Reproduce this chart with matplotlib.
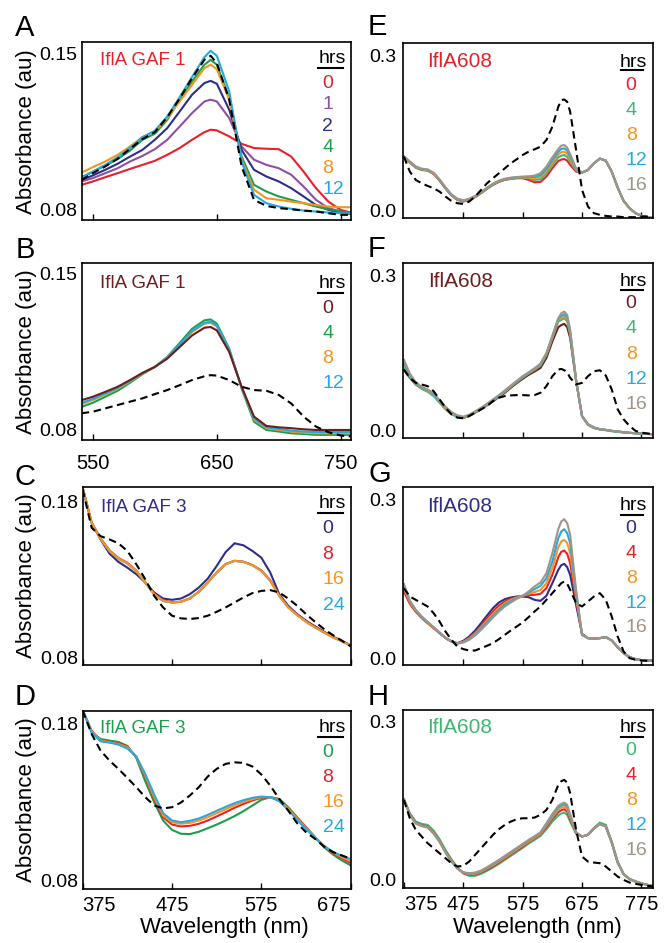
import matplotlib
matplotlib.use("Agg")
import matplotlib.pyplot as plt

plt.rcParams['font.family'] = ['Liberation Sans', 'DejaVu Sans']

RED = '#e8202a'
PURPLE = '#8f4fa0'
NAVY = '#2e2d88'
GREEN = '#1d9e4f'
LGREEN = '#3db873'
ORANGE = '#f7941d'
CYAN = '#25a9e0'
BROWN = '#6e1e1e'
TAN = '#a39386'

# ---- wavelengths (nm) ----
wl_ab = [541, 550, 560, 570, 580, 590, 600, 610, 620, 630, 640, 645, 650,
         660, 670, 680, 690, 700, 710, 720, 730, 740, 750, 758]
wl_cd = list(range(375, 676, 10))
wl_efgh = list(range(375, 636, 10)) + [640, 645, 650] + list(range(655, 796, 10))

# ---- panel A: IflA GAF 1 ----
a_hours = ['0', '1', '2', '4', '8', '12']
a_0 = [0.0912, 0.0927, 0.0946, 0.0964, 0.0983, 0.1001, 0.1019, 0.1046, 0.1076, 0.1113, 0.1147, 0.1158,
       0.1155, 0.1128, 0.1095, 0.1076, 0.1073, 0.1071, 0.1038, 0.0971, 0.0897, 0.0837, 0.0800, 0.0788]
a_1 = [0.0927, 0.0942, 0.0964, 0.0986, 0.1016, 0.1041, 0.1071, 0.1113, 0.1172, 0.1232, 0.1284, 0.1292,
       0.1284, 0.1210, 0.1083, 0.1024, 0.1001, 0.0986, 0.0957, 0.0904, 0.0845, 0.0808, 0.0793, 0.0785]
a_2 = [0.0934, 0.0954, 0.0979, 0.1006, 0.1038, 0.1068, 0.1113, 0.1165, 0.1239, 0.1314, 0.1366, 0.1376,
       0.1363, 0.1247, 0.1068, 0.0979, 0.0949, 0.0927, 0.0897, 0.0860, 0.0822, 0.0800, 0.0788, 0.0782]
a_4 = [0.0946, 0.0971, 0.0997, 0.1027, 0.1065, 0.1113, 0.1140, 0.1202, 0.1292, 0.1373, 0.1448, 0.1470,
       0.1448, 0.1299, 0.1038, 0.0912, 0.0882, 0.0860, 0.0845, 0.0830, 0.0815, 0.0803, 0.0793, 0.0785]
a_8 = [0.0967, 0.0991, 0.1016, 0.1046, 0.1083, 0.1125, 0.1150, 0.1210, 0.1284, 0.1358, 0.1433, 0.1448,
       0.1428, 0.1292, 0.1024, 0.0890, 0.0852, 0.0845, 0.0837, 0.0830, 0.0822, 0.0815, 0.0812, 0.0812]
a_12 = [0.0942, 0.0971, 0.1001, 0.1035, 0.1076, 0.1125, 0.1153, 0.1217, 0.1303, 0.1393, 0.1482, 0.1510,
        0.1488, 0.1329, 0.1016, 0.0867, 0.0830, 0.0815, 0.0805, 0.0797, 0.0793, 0.0788, 0.0785, 0.0785]
a_ref = [0.0934, 0.0964, 0.0994, 0.1028, 0.1073, 0.1116, 0.1147, 0.1214, 0.1297, 0.1388, 0.1470, 0.1488,
         0.1455, 0.1292, 0.0994, 0.0845, 0.0818, 0.0808, 0.0803, 0.0797, 0.0793, 0.0785, 0.0778, 0.0778]

# ---- panel B: IflA GAF 1 ----
b_hours = ['0', '4', '8', '12']
b_0 = [0.0934, 0.0949, 0.0971, 0.0994, 0.1024, 0.1056, 0.1083, 0.1120, 0.1172, 0.1224, 0.1259, 0.1262,
       0.1247, 0.1150, 0.0994, 0.0860, 0.0818, 0.0812, 0.0808, 0.0803, 0.0800, 0.0800, 0.0800, 0.0800]
b_4 = [0.0904, 0.0922, 0.0949, 0.0976, 0.1012, 0.1050, 0.1083, 0.1128, 0.1190, 0.1254, 0.1292, 0.1296,
       0.1277, 0.1165, 0.0986, 0.0837, 0.0800, 0.0793, 0.0785, 0.0782, 0.0778, 0.0778, 0.0778, 0.0778]
b_8 = [0.0916, 0.0934, 0.0960, 0.0985, 0.1018, 0.1053, 0.1083, 0.1125, 0.1180, 0.1239, 0.1277, 0.1281,
       0.1265, 0.1158, 0.0991, 0.0848, 0.0808, 0.0800, 0.0793, 0.0788, 0.0785, 0.0785, 0.0785, 0.0785]
b_12 = [0.0922, 0.0939, 0.0964, 0.0989, 0.1021, 0.1055, 0.1083, 0.1125, 0.1183, 0.1244, 0.1281, 0.1286,
        0.1269, 0.1161, 0.0991, 0.0852, 0.0812, 0.0805, 0.0797, 0.0793, 0.0791, 0.0791, 0.0791, 0.0791]
b_ref = [0.0875, 0.0882, 0.0897, 0.0912, 0.0927, 0.0942, 0.0961, 0.0979, 0.1001, 0.1024, 0.1041, 0.1046,
         0.1044, 0.1024, 0.0994, 0.0979, 0.0976, 0.0957, 0.0919, 0.0860, 0.0815, 0.0790, 0.0775, 0.0771]

# ---- panel C: IflA GAF 3 ----
c_hours = ['0', '8', '16', '24']
c_0 = [.1885, .1662, .1555, .1464, .1411, .1374, .1332, .1279, .1215, .1176, .1168, .1176, .1204, .1247, .1304, .1385,
       .1474, .1530, .1517, .1481, .1438, .1342, .1204, .1130, .1076, .1034, .0998, .0964, .0932, .0906, .0874]
c_8 = [.1885, .1662, .1562, .1485, .1436, .1405, .1355, .1281, .1206, .1163, .1152, .1156, .1177, .1220, .1280, .1343,
       .1397, .1418, .1412, .1391, .1356, .1293, .1198, .1123, .1074, .1031, .0995, .0962, .0930, .0904, .0876]
c_16 = [.1885, .1662, .1559, .1481, .1432, .1402, .1353, .1279, .1204, .1161, .1151, .1155, .1176, .1219, .1279, .1342,
        .1396, .1417, .1411, .1389, .1353, .1289, .1193, .1119, .1070, .1027, .0991, .0959, .0927, .0902, .0874]
c_24 = [.1885, .1662, .1558, .1480, .1430, .1400, .1352, .1278, .1203, .1160, .1150, .1155, .1176, .1219, .1279, .1342,
        .1397, .1418, .1411, .1389, .1353, .1289, .1193, .1119, .1070, .1027, .0991, .0959, .0927, .0902, .0874]
c_ref = [.1874, .1630, .1576, .1555, .1530, .1481, .1396, .1300, .1193, .1119, .1066, .1049, .1045, .1051, .1066, .1091,
         .1119, .1151, .1183, .1211, .1225, .1230, .1215, .1176, .1130, .1076, .1027, .0981, .0942, .0906, .0870]

# ---- panel D: IflA GAF 3 ----
d_hours = ['0', '8', '16', '24']
d_0 = [.1889, .1747, .1704, .1694, .1685, .1660, .1583, .1434, .1300, .1183, .1123, .1098, .1096, .1111, .1134, .1157,
       .1183, .1211, .1243, .1279, .1315, .1332, .1321, .1268, .1204, .1140, .1077, .1013, .0966, .0928, .0896]
d_8 = [.1889, .1757, .1694, .1685, .1677, .1655, .1591, .1464, .1321, .1204, .1157, .1145, .1149, .1162, .1183, .1209,
       .1236, .1264, .1289, .1311, .1328, .1332, .1315, .1264, .1200, .1140, .1077, .1019, .0974, .0943, .0911]
d_16 = [.1889, .1753, .1694, .1683, .1672, .1651, .1591, .1470, .1332, .1215, .1172, .1162, .1168, .1183, .1204, .1230,
        .1255, .1281, .1302, .1319, .1332, .1332, .1311, .1260, .1196, .1136, .1077, .1023, .0979, .0949, .0923]
d_24 = [.1889, .1747, .1689, .1681, .1668, .1643, .1591, .1481, .1349, .1230, .1183, .1172, .1181, .1196, .1219, .1245,
        .1270, .1294, .1313, .1328, .1336, .1332, .1306, .1251, .1187, .1128, .1072, .1021, .0983, .0957, .0936]
d_ref = [.1885, .1736, .1630, .1566, .1513, .1455, .1396, .1332, .1279, .1260, .1268, .1298, .1343, .1396, .1464, .1513,
         .1545, .1555, .1551, .1528, .1477, .1406, .1321, .1247, .1166, .1108, .1066, .1017, .0981, .0960, .0938]

# ---- panel E: IflA608 ----
e_hours = ['0', '4', '8', '12', '16']
e_0 = [.1040, .0924, .0828, .0783, .0770, .0706, .0578, .0424, .0289, .0205, .0173, .0205, .0257, .0334, .0417,
       .0494, .0552, .0591, .0610, .0623, .0623, .0591, .0546, .0552, .0655, .0815, .0957, .0982, .0995, .0963,
       .0880, .0751, .0732, .0783, .0912, .1002, .0963, .0751, .0443, .0186, .0045, -.0051, -.0103, -.0128, -.0148]
e_4 = [.1040, .0930, .0834, .0790, .0776, .0712, .0584, .0430, .0295, .0211, .0179, .0211, .0263, .0340, .0423,
       .0500, .0558, .0597, .0616, .0629, .0636, .0623, .0591, .0603, .0719, .0880, .1027, .1059, .1072, .1034,
       .0944, .0770, .0732, .0783, .0912, .1002, .0963, .0751, .0443, .0186, .0045, -.0051, -.0103, -.0128, -.0148]
e_8 = [.1040, .0936, .0840, .0795, .0782, .0718, .0590, .0436, .0301, .0217, .0185, .0217, .0269, .0346, .0429,
       .0506, .0564, .0603, .0622, .0635, .0642, .0636, .0623, .0642, .0764, .0924, .1085, .1124, .1136, .1098,
       .0989, .0783, .0732, .0783, .0912, .1002, .0963, .0751, .0443, .0186, .0045, -.0051, -.0103, -.0128, -.0148]
e_12 = [.1040, .0942, .0846, .0801, .0788, .0724, .0596, .0442, .0307, .0223, .0191, .0223, .0275, .0352, .0435,
        .0512, .0570, .0609, .0628, .0641, .0648, .0648, .0648, .0681, .0803, .0976, .1136, .1188, .1201, .1156,
        .1040, .0796, .0732, .0783, .0912, .1002, .0963, .0751, .0443, .0186, .0045, -.0051, -.0103, -.0128, -.0148]
e_16 = [.1040, .0948, .0852, .0807, .0794, .0730, .0602, .0448, .0313, .0229, .0197, .0229, .0281, .0358, .0441,
        .0518, .0576, .0615, .0634, .0647, .0655, .0661, .0674, .0719, .0847, .1027, .1188, .1252, .1265, .1213,
        .1091, .0815, .0732, .0783, .0912, .1002, .0963, .0751, .0443, .0186, .0045, -.0051, -.0103, -.0128, -.0148]
e_ref = [.1040, .0751, .0591, .0526, .0475, .0430, .0366, .0270, .0186, .0141, .0128, .0173, .0270, .0398, .0526,
         .0623, .0719, .0815, .0912, .0989, .1072, .1136, .1181, .1233, .1361, .1618, .2003, .2131, .2144, .2099,
         .1907, .1168, .0398, .0077, -.0051, -.0083, -.0103, -.0116, -.0116, -.0128, -.0128, -.0128, -.0116, -.0116,
         -.0116]

# ---- panel F: IflA608 ----
f_hours = ['0', '4', '8', '12', '16']
f_0 = [.1181, .1021, .0892, .0815, .0764, .0687, .0559, .0430, .0334, .0276, .0250, .0282, .0347, .0411, .0488,
       .0565, .0648, .0732, .0828, .0918, .1002, .1079, .1143, .1213, .1406, .1727, .2003, .2042, .2067, .2003,
       .1791, .0957, .0282, .0122, .0058, .0026, .0013, -.0006, -.0019, -.0032, -.0045, -.0051, -.0058, -.0064, -.0071]
f_4 = [.1245, .1040, .0892, .0809, .0751, .0668, .0539, .0411, .0315, .0263, .0244, .0282, .0347, .0417, .0494,
       .0578, .0661, .0751, .0847, .0937, .1027, .1104, .1175, .1258, .1464, .1785, .2112, .2144, .2176, .2112,
       .1855, .0969, .0270, .0109, .0045, .0019, .0006, -.0013, -.0026, -.0039, -.0045, -.0051, -.0058, -.0064, -.0071]
f_8 = [.1278, .1066, .0912, .0828, .0770, .0687, .0559, .0430, .0334, .0276, .0250, .0289, .0353, .0424, .0501,
       .0584, .0668, .0758, .0854, .0944, .1034, .1111, .1181, .1271, .1477, .1804, .2144, .2176, .2208, .2144,
       .1887, .0976, .0276, .0116, .0051, .0026, .0013, -.0006, -.0019, -.0032, -.0045, -.0051, -.0058, -.0064, -.0071]
f_12 = [.1310, .1079, .0924, .0835, .0783, .0700, .0571, .0443, .0347, .0282, .0257, .0295, .0360, .0430, .0507,
        .0591, .0674, .0764, .0860, .0950, .1040, .1117, .1194, .1284, .1489, .1823, .2164, .2221, .2253, .2189,
        .1920, .0982, .0282, .0122, .0058, .0026, .0013, -.0006, -.0019, -.0032, -.0045, -.0051, -.0058, -.0064, -.0071]
f_16 = [.1374, .1104, .0937, .0847, .0796, .0719, .0591, .0462, .0360, .0295, .0270, .0308, .0372, .0443, .0520,
        .0603, .0687, .0777, .0873, .0963, .1053, .1130, .1207, .1297, .1502, .1836, .2176, .2273, .2305, .2241,
        .1952, .0989, .0282, .0122, .0058, .0026, .0013, -.0006, -.0019, -.0032, -.0045, -.0051, -.0058, -.0064, -.0071]
f_ref = [.1181, .1021, .0924, .0892, .0860, .0764, .0603, .0443, .0315, .0250, .0238, .0282, .0347, .0411, .0475,
         .0571, .0636, .0668, .0681, .0687, .0687, .0681, .0687, .0732, .0860, .1053, .1181, .1194, .1168, .1130,
         .1021, .0892, .0924, .1053, .1149, .1168, .1066, .0796, .0411, .0218, .0090, -.0006, -.0039, -.0058, -.0071]

# ---- panel G: IflA608 ----
g_hours = ['0', '4', '8', '12', '16']
g_0 = [.1307, .1055, .0891, .0771, .0669, .0575, .0480, .0385, .0322, .0284, .0328, .0411, .0524, .0663, .0808,
       .0947, .1055, .1118, .1150, .1168, .1168, .1156, .1105, .1086, .1181, .1421, .1674, .1762, .1787, .1724,
       .1579, .1011, .0461, .0379, .0373, .0379, .0398, .0335, .0208, .0095, .0019, -.0019, -.0038, -.0044, -.0051]
g_4 = [.1263, .1030, .0878, .0758, .0663, .0568, .0474, .0379, .0316, .0278, .0316, .0385, .0486, .0613, .0752,
       .0884, .0998, .1074, .1124, .1156, .1181, .1194, .1200, .1219, .1326, .1579, .1914, .2015, .2040, .1977,
       .1800, .1105, .0442, .0379, .0373, .0379, .0398, .0335, .0208, .0095, .0019, -.0019, -.0038, -.0044, -.0051]
g_8 = [.1326, .1061, .0897, .0771, .0669, .0575, .0480, .0385, .0316, .0278, .0309, .0373, .0467, .0587, .0714,
       .0840, .0954, .1042, .1105, .1150, .1181, .1219, .1251, .1295, .1421, .1705, .2103, .2211, .2242, .2179,
       .1990, .1168, .0442, .0379, .0373, .0379, .0398, .0335, .0208, .0095, .0019, -.0019, -.0038, -.0044, -.0051]
g_12 = [.1371, .1080, .0910, .0783, .0682, .0587, .0486, .0385, .0316, .0278, .0303, .0360, .0448, .0562, .0682,
        .0802, .0916, .1011, .1080, .1137, .1181, .1244, .1307, .1371, .1516, .1832, .2274, .2400, .2444, .2369,
        .2179, .1232, .0442, .0379, .0373, .0379, .0398, .0335, .0208, .0095, .0019, -.0019, -.0038, -.0044, -.0051]
g_16 = [.1408, .1093, .0916, .0790, .0688, .0587, .0486, .0385, .0316, .0278, .0297, .0347, .0429, .0537, .0651,
        .0771, .0884, .0979, .1055, .1124, .1181, .1263, .1358, .1434, .1611, .1990, .2444, .2590, .2634, .2558,
        .2337, .1295, .0442, .0379, .0373, .0379, .0398, .0335, .0208, .0095, .0019, -.0019, -.0038, -.0044, -.0051]
g_ref = [.1326, .1168, .1105, .1042, .0979, .0853, .0695, .0505, .0347, .0221, .0171, .0145, .0145, .0189, .0234,
         .0284, .0360, .0442, .0524, .0600, .0676, .0777, .0884, .0979, .1105, .1232, .1358, .1421, .1453, .1408,
         .1295, .1042, .0979, .1074, .1168, .1232, .1105, .0790, .0411, .0126, .0000, -.0032, -.0044, -.0051, -.0051]

# ---- panel H: IflA608 ----
h_hours = ['0', '4', '8', '12', '16']
h_0 = [.1528, .1263, .1105, .1061, .1042, .0935, .0771, .0568, .0392, .0240, .0126, .0076, .0076, .0114, .0171,
       .0234, .0303, .0379, .0455, .0531, .0606, .0688, .0758, .0834, .0960, .1105, .1219, .1257, .1276, .1232,
       .1105, .0872, .0821, .0859, .0985, .1086, .1042, .0726, .0347, .0114, .0019, -.0025, -.0063, -.0095, -.0114]
h_4 = [.1528, .1251, .1086, .1036, .1011, .0897, .0739, .0537, .0366, .0221, .0126, .0095, .0101, .0139, .0196,
       .0259, .0328, .0404, .0480, .0556, .0632, .0714, .0783, .0859, .0998, .1156, .1282, .1320, .1339, .1295,
       .1150, .0884, .0821, .0853, .0973, .1061, .1011, .0707, .0328, .0107, .0013, -.0032, -.0069, -.0095, -.0114]
h_8 = [.1528, .1244, .1080, .1030, .1004, .0891, .0733, .0531, .0360, .0221, .0133, .0107, .0114, .0152, .0215,
       .0278, .0347, .0423, .0499, .0575, .0651, .0726, .0796, .0872, .1023, .1187, .1326, .1364, .1390, .1345,
       .1181, .0891, .0821, .0853, .0973, .1061, .1011, .0707, .0328, .0107, .0013, -.0032, -.0069, -.0095, -.0114]
h_12 = [.1528, .1238, .1074, .1023, .0998, .0884, .0726, .0524, .0354, .0215, .0139, .0114, .0126, .0164, .0227,
        .0297, .0366, .0442, .0518, .0594, .0670, .0745, .0815, .0891, .1048, .1219, .1371, .1408, .1434, .1390,
        .1213, .0897, .0821, .0853, .0973, .1061, .1011, .0707, .0328, .0107, .0013, -.0032, -.0069, -.0095, -.0114]
h_16 = [.1528, .1232, .1067, .1017, .0992, .0878, .0720, .0518, .0347, .0215, .0145, .0126, .0139, .0177, .0240,
        .0309, .0379, .0455, .0531, .0606, .0682, .0758, .0827, .0903, .1074, .1251, .1402, .1440, .1465, .1421,
        .1244, .0903, .0821, .0853, .0973, .1061, .1011, .0707, .0328, .0107, .0013, -.0032, -.0069, -.0095, -.0114]
h_ref = [.1516, .1168, .0947, .0821, .0695, .0600, .0505, .0411, .0316, .0253, .0265, .0347, .0474, .0600, .0726,
         .0853, .0960, .1042, .1105, .1150, .1168, .1168, .1181, .1232, .1326, .1516, .1800, .1870, .1895, .1844,
         .1642, .0947, .0442, .0347, .0328, .0316, .0253, .0158, .0063, .0000, -.0051, -.0076, -.0095, -.0114, -.0126]


W, H = 666, 943
fig = plt.figure(figsize=(W / 100, H / 100), dpi=100)


def px_rect(left, top, right, bottom):
    return [left / W, 1 - bottom / H, (right - left) / W, (bottom - top) / H]


panels = [
    dict(letter='A', lpos=(15, 36), rect=px_rect(81.7, 42.3, 350.7, 220), wl=wl_ab,
         curves=[(a_0, RED), (a_1, PURPLE), (a_2, NAVY), (a_4, GREEN), (a_8, ORANGE), (a_12, CYAN)],
         ref=a_ref, hours=a_hours, hcol=[RED, PURPLE, NAVY, GREEN, ORANGE, CYAN],
         title='IflA GAF 1', tcol=RED, tpos=(0.068, 0.872), tsize=13.5,
         xlim=(541, 758), ylim=(0.0755, 0.1548), yt=[0.08, 0.15], ytl=['0.08', '0.15'],
         xt=[550, 650, 750], xl=False, leg=(0.882, 0.857, 0.741, 0.1188), side='L'),
    dict(letter='B', lpos=(16, 258), rect=px_rect(81.7, 263.3, 350.7, 440), wl=wl_ab,
         curves=[(b_4, GREEN), (b_8, ORANGE), (b_12, CYAN), (b_0, BROWN)],
         ref=b_ref, hours=b_hours, hcol=[BROWN, GREEN, ORANGE, CYAN],
         title='IflA GAF 1', tcol=BROWN, tpos=(0.068, 0.859), tsize=13.5,
         xlim=(541, 758), ylim=(0.0755, 0.1548), yt=[0.08, 0.15], ytl=['0.08', '0.15'],
         xt=[550, 650, 750], xl='mid', leg=(0.859, 0.834, 0.7175, 0.141), side='L'),
    dict(letter='C', lpos=(15, 485), rect=px_rect(82.7, 486.7, 350.7, 665), wl=wl_cd,
         curves=[(c_0, NAVY), (c_8, RED), (c_24, CYAN), (c_16, ORANGE)],
         ref=c_ref, hours=c_hours, hcol=[NAVY, RED, ORANGE, CYAN],
         title='IflA GAF 3', tcol=NAVY, tpos=(0.068, 0.860), tsize=13.5,
         xlim=(375, 675), ylim=(0.0750, 0.1893), yt=[0.08, 0.18], ytl=['0.08', '0.18'],
         xt=[375, 475, 575, 675], xl=False, leg=(0.879, 0.851, 0.739, 0.143), side='L'),
    dict(letter='D', lpos=(15, 705), rect=px_rect(82.7, 710.7, 350.7, 889), wl=wl_cd,
         curves=[(d_0, GREEN), (d_8, RED), (d_16, ORANGE), (d_24, CYAN)],
         ref=d_ref, hours=d_hours, hcol=[GREEN, RED, ORANGE, CYAN],
         title='IflA GAF 3', tcol=GREEN, tpos=(0.065, 0.873), tsize=13.5,
         xlim=(375, 675), ylim=(0.0745, 0.1885), yt=[0.08, 0.18], ytl=['0.08', '0.18'],
         xt=[375, 475, 575, 675], xl='ends', leg=(0.882, 0.854, 0.742, 0.140), side='L'),
    dict(letter='E', lpos=(368, 35), rect=px_rect(402.7, 42.7, 653.3, 218.3), wl=wl_efgh,
         curves=[(e_0, RED), (e_4, LGREEN), (e_8, ORANGE), (e_12, CYAN), (e_16, TAN)],
         ref=e_ref, hours=e_hours, hcol=[RED, LGREEN, ORANGE, CYAN, TAN],
         title='IflA608', tcol=RED, tpos=(0.096, 0.863), tsize=15,
         xlim=(373, 795), ylim=(-0.015, 0.324), yt=[0.0, 0.3], ytl=['0.0', '0.3'],
         xt=[475, 575, 675, 775], xl=False, leg=(0.863, 0.845, 0.731, 0.142), side='R'),
    dict(letter='F', lpos=(368, 257), rect=px_rect(402.7, 263.3, 653.3, 438.3), wl=wl_efgh,
         curves=[(f_0, BROWN), (f_4, LGREEN), (f_8, ORANGE), (f_12, CYAN), (f_16, TAN)],
         ref=f_ref, hours=f_hours, hcol=[BROWN, LGREEN, ORANGE, CYAN, TAN],
         title='IflA608', tcol=BROWN, tpos=(0.102, 0.866), tsize=15,
         xlim=(373, 795), ylim=(-0.015, 0.324), yt=[0.0, 0.3], ytl=['0.0', '0.3'],
         xt=[475, 575, 675, 775], xl=False, leg=(0.870, 0.847, 0.743, 0.144), side='R'),
    dict(letter='G', lpos=(368, 482), rect=px_rect(402.7, 486.7, 653.3, 665), wl=wl_efgh,
         curves=[(g_0, NAVY), (g_4, RED), (g_8, ORANGE), (g_12, CYAN), (g_16, TAN)],
         ref=g_ref, hours=g_hours, hcol=[NAVY, RED, ORANGE, CYAN, TAN],
         title='IflA608', tcol=NAVY, tpos=(0.098, 0.860), tsize=15,
         xlim=(373, 795), ylim=(-0.013, 0.325), yt=[0.0, 0.3], ytl=['0.0', '0.3'],
         xt=[475, 575, 675, 775], xl=False, leg=(0.869, 0.841, 0.739, 0.139), side='R'),
    dict(letter='H', lpos=(368, 705), rect=px_rect(402.7, 710, 653.3, 888.3), wl=wl_efgh,
         curves=[(h_0, LGREEN), (h_4, RED), (h_8, ORANGE), (h_12, CYAN), (h_16, TAN)],
         ref=h_ref, hours=h_hours, hcol=[LGREEN, RED, ORANGE, CYAN, TAN],
         title='IflA608', tcol=LGREEN, tpos=(0.096, 0.869), tsize=15,
         xlim=(373, 795), ylim=(-0.016, 0.322), yt=[0.0, 0.3], ytl=['0.0', '0.3'],
         xt=[375, 475, 575, 675, 775], xl='first', leg=(0.878, 0.851, 0.748, 0.140), side='R'),
]

for p in panels:
    ax = fig.add_axes(p['rect'])
    for vals, col in p['curves']:
        ax.plot(p['wl'], vals, color=col, lw=1.5)
    ax.plot(p['wl'], p['ref'], color='black', lw=1.5, ls=(0, (3.6, 2.2)), zorder=5)

    ax.set_xlim(*p['xlim'])
    ax.set_ylim(*p['ylim'])
    for s in ax.spines.values():
        s.set_linewidth(1.2)

    ax.set_yticks(p['yt'])
    ax.set_yticklabels(p['ytl'], fontsize=14)
    ax.tick_params(axis='y', length=0, pad=3.5 if p['side'] == 'L' else 4.5)

    ax.set_xticks(p['xt'])
    if p['xl']:
        ax.set_xticklabels([str(v) for v in p['xt']], fontsize=14.5)
        labs = ax.get_xticklabels()
        if p['xl'] == 'ends':
            labs[0].set_ha('left')
            labs[-1].set_ha('right')
        elif p['xl'] == 'first':
            labs[0].set_ha('left')
        pad = 10 if p['xl'] == 'mid' else 5
    else:
        ax.set_xticklabels([])
        pad = 4
    ax.tick_params(axis='x', direction='in', length=4, width=1.0, pad=pad)

    # panel title
    ax.text(p['tpos'][0], p['tpos'][1], p['title'], color=p['tcol'], fontsize=p['tsize'],
            transform=ax.transAxes, ha='left', va='baseline')

    # hand-made "hrs" legend
    hy, ly, ny, step = p['leg']
    if p['side'] == 'L':
        hx, lx0, lx1, nx = 0.93, 0.877, 0.973, 0.895
    else:
        hx, lx0, lx1, nx = 0.92, 0.872, 0.960, 0.89
    ax.text(hx, hy, 'hrs', fontsize=14, transform=ax.transAxes, ha='center', va='baseline')
    ax.plot([lx0, lx1], [ly, ly], color='black', lw=1.5, transform=ax.transAxes, clip_on=False)
    for i, (lab, col) in enumerate(zip(p['hours'], p['hcol'])):
        ax.text(nx, ny - i * step, lab, color=col, fontsize=14, transform=ax.transAxes,
                ha='left', va='baseline')

    fig.text(p['lpos'][0] / W, 1 - p['lpos'][1] / H, p['letter'], fontsize=21,
             ha='left', va='baseline')

    if p['side'] == 'L':
        r = p['rect']
        fig.text(27 / W, r[1] + r[3] / 2, 'Absorbance (au)', fontsize=16, rotation=90,
                 ha='center', va='center')

fig.text(224 / W, 1 - 927 / H, 'Wavelength (nm)', fontsize=16, ha='center', va='center')
fig.text(537.5 / W, 1 - 927 / H, 'Wavelength (nm)', fontsize=16, ha='center', va='center')

fig.savefig('out.png', dpi=100)
